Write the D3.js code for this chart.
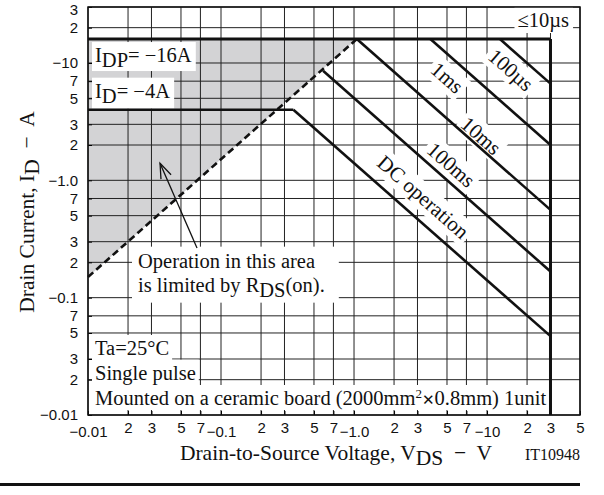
<!DOCTYPE html>
<html>
<head>
<meta charset="utf-8">
<script src="https://cdnjs.cloudflare.com/ajax/libs/d3/7.8.5/d3.min.js"></script>
<style>
body { margin: 0; background: #fff; }
svg text { white-space: pre; }
</style>
</head>
<body>
<svg id="soa" width="604" height="495"></svg>
<script>
// tick values and their labels
var xTicks = [0.01,0.02,0.03,0.05,0.07,0.1,0.2,0.3,0.5,0.7,1,2,3,5,7,10,20,30,50];
var xTickLabels = ["−0.01","2","3","5","7","−0.1","2","3","5","7","−1.0","2","3","5","7","−10","2","3","5"];
var yTicks = [0.01,0.02,0.03,0.05,0.07,0.1,0.2,0.3,0.5,0.7,1,2,3,5,7,10,20,30];
var yTickLabels = ["−0.01","2","3","5","7","−0.1","2","3","5","7","−1.0","2","3","5","7","−10","2","3"];

// pulse limits : start point -> end point on the 30 V limit, [V, A]
var pulseNames = ["100µs","1ms","10ms","100ms","DC operation"];
var pulseStart = [[12.5,16],[3.75,16],[1.05,16],[0.585,8.6],[0.35,4]];
var pulseEnd = [[30,6.67],[30,2.0],[30,0.56],[30,0.167],[30,0.047]];
var pulseLabelAt = [[15.1,8.7],[5.0,7.45],[9.0,2.39],[5.36,1.35],[3.3,0.72]];

// other limits
var rdsLine = [[0.01,0.15],[1.05,16]];
var idpLine = [[0.01,16],[30,16]];
var idLine = [[0.01,4],[0.35,4]];
var vdssLine = [[30,16],[30,0.01]];
var arrowFrom = [0.066,0.265], arrowTo = [0.0348,1.40];

var serif = "Liberation Serif, Times New Roman, serif";
var svg = d3.select("#soa").attr("font-family", serif);

var x = d3.scaleLog().domain([0.01,50]).range([88,580]);
var y = d3.scaleLog().domain([0.01,30]).range([415,7]);

var line = d3.line()
    .x(function(d){ return x(d[0]); })
    .y(function(d){ return y(d[1]); });

// gray area limited by rds(on)
svg.append("path")
    .attr("d", line([rdsLine[0], rdsLine[1], [0.01,16]]) + "Z")
    .attr("fill", "#d3d3d5");

// grid
var grid = svg.append("g").attr("stroke", "#222").attr("stroke-width", 1);
grid.selectAll("line.gx").data(xTicks).enter().append("line")
    .attr("x1", x).attr("x2", x)
    .attr("y1", y(0.01)).attr("y2", y(30));
grid.selectAll("line.gy").data(yTicks).enter().append("line")
    .attr("y1", y).attr("y2", y)
    .attr("x1", x(0.01)).attr("x2", x(50));

var boxLayer = svg.append("g");
var tickLayer = svg.append("g");
var lineLayer = svg.append("g").attr("fill", "none").attr("stroke", "#111");
var textLayer = svg.append("g").attr("fill", "#111").attr("font-family", serif);

// axes (inner ticks + labels)
var xAxis = tickLayer.append("g")
    .attr("transform", "translate(0," + y(0.01) + ")")
    .call(d3.axisBottom(x).tickValues(xTicks)
        .tickFormat(function(d, i){ return xTickLabels[i]; })
        .tickSizeInner(-4).tickSizeOuter(0).tickPadding(7));
var yAxis = tickLayer.append("g")
    .attr("transform", "translate(" + x(0.01) + ",0)")
    .call(d3.axisLeft(y).tickValues(yTicks)
        .tickFormat(function(d, i){ return yTickLabels[i]; })
        .tickSizeInner(-4).tickSizeOuter(0).tickPadding(10));
[xAxis, yAxis].forEach(function(a){
    a.select(".domain").remove();
    a.attr("font-family", "Liberation Sans, Arial, sans-serif").attr("font-size", 15);
    a.selectAll("text").attr("fill", "#111");
});
xAxis.selectAll("text").filter(function(d, i){ return xTickLabels[i].charAt(0) == "−"; })
    .attr("dy", "0.98em");
// keep the top label inside the picture
yAxis.selectAll("text").filter(function(d){ return d == 30; }).attr("dy", "0.5em");

// limit lines
lineLayer.append("path").attr("d", line(rdsLine))
    .attr("stroke-width", 2.6).attr("stroke-dasharray", "7,4");
lineLayer.append("path").attr("d", line(idpLine)).attr("stroke-width", 3);
lineLayer.append("path").attr("d", line(vdssLine)).attr("stroke-width", 3);
lineLayer.append("path").attr("d", line(idLine)).attr("stroke-width", 2.6);
pulseNames.forEach(function(n, i){
    lineLayer.append("path").attr("d", line([pulseStart[i], pulseEnd[i]])).attr("stroke-width", 2.6);
});

// frame
svg.append("rect")
    .attr("x", x(0.01)).attr("y", y(30))
    .attr("width", x(50) - x(0.01)).attr("height", y(0.01) - y(30))
    .attr("fill", "none").attr("stroke", "#111").attr("stroke-width", 1.5);

// text with a white box behind it
function note(px, py, parts, pad) {
    var t = textLayer.append("text").attr("x", px).attr("y", py).attr("font-size", 20.5);
    parts.forEach(function(p){
        var s = t.append("tspan").text(p[0]);
        if (p[1]) s.attr("dy", p[1]);
        if (p[2] != null) s.attr("x", p[2]);
        if (p[3]) s.attr("font-size", p[3]);
        if (p[4]) s.attr("font-family", p[4]).attr("font-weight", "bold");
    });
    var b = t.node().getBBox();
    pad = pad || [3, 1, 3, 1];
    boxLayer.append("rect")
        .attr("x", b.x - pad[0]).attr("y", b.y - pad[1])
        .attr("width", b.width + pad[0] + pad[2]).attr("height", b.height + pad[1] + pad[3])
        .attr("fill", "#fff");
    return t;
}

var x0 = x(0.01) + 7;
note(x0, y(16) + 23, [["I"], ["DP", 5], ["= −16A", -5]], [3, 2, 4, 0]);
note(x0, y(4) - 12, [["I"], ["D", 5], ["= −4A", -5]], [3, 2, 4, 2]);
note(x(30) - 33, y(30) + 20, [["≤10µs"]], [3, 2, 4, 1]);
note(x(0.01) + 50, y(0.1) - 30, [["Operation in this area"],
    ["is limited by R", 24, x(0.01) + 50], ["DS", 5], ["(on).", -5]], [6, 3, 14, 2]);
note(x0, y(0.05) + 22, [["Ta=25°C"]], [3, 2, 3, 4]);
note(x0, y(0.02), [["Single pulse"]], [3, 2, 3, 2]);
note(x0, y(0.01) - 10, [["Mounted on a ceramic board (2000mm"], ["2", -7, null, 13],
    ["✕", 7, null, 15, "DejaVu Sans"], ["0.8mm) 1unit"]], [3, 1, 2, 0]);

// rotated pulse labels
var ang = Math.atan2(y(1) - y(10), x(10) - x(1)) * 180 / Math.PI;
pulseNames.forEach(function(n, i){
    var tr = "translate(" + x(pulseLabelAt[i][0]) + "," + y(pulseLabelAt[i][1]) + ") rotate(" + ang + ")";
    var t = textLayer.append("text").attr("transform", tr)
        .attr("text-anchor", "middle").attr("dy", "0.33em").attr("font-size", 21).text(n);
    var b = t.node().getBBox();
    boxLayer.append("rect").attr("transform", tr)
        .attr("x", b.x - 3).attr("y", b.y - 1).attr("width", b.width + 6).attr("height", b.height + 2)
        .attr("fill", "#fff");
});

// arrow
svg.append("defs").append("marker")
    .attr("id", "head").attr("markerUnits", "userSpaceOnUse")
    .attr("viewBox", "-16 -7 18 14").attr("markerWidth", 18).attr("markerHeight", 14)
    .attr("refX", 0).attr("refY", 0).attr("orient", "auto")
    .append("path").attr("d", "M-15,-5.5L0,0L-15,5.5")
    .attr("fill", "none").attr("stroke", "#111").attr("stroke-width", 1.3);
svg.append("path").attr("d", line([arrowFrom, arrowTo]))
    .attr("stroke", "#111").attr("stroke-width", 1.3).attr("marker-end", "url(#head)");

// axis titles
textLayer.append("text")
    .attr("transform", "translate(34,212) rotate(-90)")
    .attr("text-anchor", "middle").attr("font-size", 21.5)
    .call(function(t){
        t.append("tspan").text("Drain Current, I");
        t.append("tspan").attr("dy", 5).text("D");
        t.append("tspan").attr("dy", -5).text("  −  A");
    });
textLayer.append("text")
    .attr("x", 336).attr("y", 460)
    .attr("text-anchor", "middle").attr("font-size", 21.5)
    .call(function(t){
        t.append("tspan").text("Drain-to-Source Voltage, V");
        t.append("tspan").attr("dy", 5).text("DS");
        t.append("tspan").attr("dy", -5).text("  −  V");
    });
textLayer.append("text")
    .attr("x", 580).attr("y", 460).attr("text-anchor", "end").attr("font-size", 16)
    .text("IT10948");

// bottom rule
svg.append("line").attr("x1", 0).attr("x2", 580).attr("y1", 484.5).attr("y2", 484.5)
    .attr("stroke", "#111").attr("stroke-width", 3);
</script>
</body>
</html>
